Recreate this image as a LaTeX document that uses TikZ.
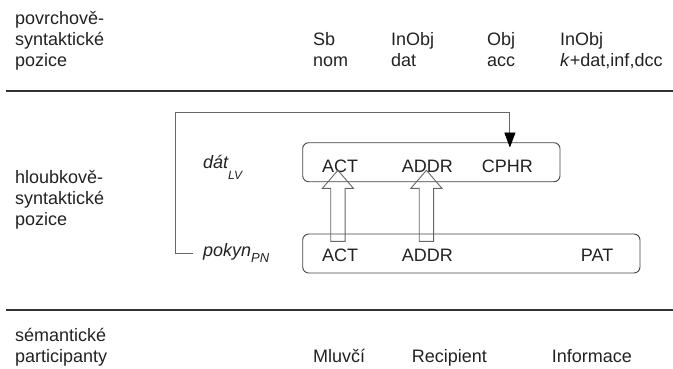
\documentclass[tikz,border=0pt]{standalone}
\usepackage{fontspec}
\setmainfont{Liberation Sans}
\usetikzlibrary{arrows.meta,calc}
\definecolor{ink}{HTML}{222222}
\definecolor{rulegray}{HTML}{333333}
\definecolor{boxgray}{HTML}{444444}
\definecolor{conngray}{HTML}{666666}
\begin{document}
\begin{tikzpicture}[x=1pt,y=-1pt,
  font=\fontsize{18}{21}\selectfont,
  lbl/.style={anchor=base west, inner sep=0pt, text=ink},
  rolebox/.style={draw=boxgray, line width=0.9pt, rounded corners=6pt, inner sep=0pt},
  sep/.style={draw=rulegray, line width=2pt},
  hollow/.style={draw=conngray, line width=0.9pt, line join=miter},
  conn/.style={draw=conngray, line width=0.9pt, -{Triangle[length=15pt,width=11pt,color=black]}}]
\useasboundingbox (0,0) rectangle (673,368);

% surface-syntactic row
\node[lbl] (ps1) at (15,24) {povrchově-};
\node[lbl] (ps2) at (15,45) {syntaktické};
\node[lbl] (ps3) at (15,66) {pozice};
\node[lbl] (sb)  at (313,45) {Sb};
\node[lbl] (nom) at (313,66) {nom};
\node[lbl] (io1) at (391,45) {InObj};
\node[lbl] (dat) at (391,66) {dat};
\node[lbl] (obj) at (487,45) {Obj};
\node[lbl] (acc) at (487,66) {acc};
\node[lbl] (io2) at (560,45) {InObj};
\node[lbl] (kdat) at (560,66) {\textit{k}+dat,inf,dcc};

% separating rules
\coordinate (r1a) at (6,91);  \coordinate (r1b) at (673,91);
\coordinate (r2a) at (6,310); \coordinate (r2b) at (673,310);
\draw[sep] (r1a) -- (r1b);
\draw[sep] (r2a) -- (r2b);

% deep-syntactic row
\node[lbl] (hs1) at (15,183) {hloubkově-};
\node[lbl] (hs2) at (15,204) {syntaktické};
\node[lbl] (hs3) at (15,225) {pozice};
\node[lbl] (dat_lv) at (203,168.3) {\textit{dát\raisebox{-11pt}{\fontsize{12}{12}\selectfont LV}}};
\node[lbl] (pok) at (203,256.7) {\textit{pokyn\raisebox{-6pt}{\fontsize{13}{13}\selectfont PN}}};

% valency frames
\node[rolebox, minimum width=257.3pt, minimum height=39pt] (lvbox) at (431.35,162.2) {};
\node[rolebox, minimum width=337.3pt, minimum height=39pt] (pnbox) at (471.35,253.5) {};

\node[lbl] (tact)  at (322,172.3)   {ACT};
\node[lbl] (taddr) at (401.7,172.3) {ADDR};
\node[lbl] (cphr)  at (481.7,172.3) {CPHR};
\node[lbl] (bact)  at (322,261)     {ACT};
\node[lbl] (baddr) at (401.7,261)   {ADDR};
\node[lbl] (pat)   at (580.7,261)   {PAT};

% hollow arrows from the noun's frame to the verb's frame
\draw[hollow] ($(tact.base)+(-2.3,-2)$) -- ++(15.5,18) -- ++(-8.3,0) -- ++(0,53)
  -- ++(-14.4,0) -- ++(0,-53) -- ++(-8.3,0) -- cycle;
\draw[hollow] ($(taddr.base)+(-1,-2)$) -- ++(15.5,18) -- ++(-8.3,0) -- ++(0,53)
  -- ++(-14.4,0) -- ++(0,-53) -- ++(-8.3,0) -- cycle;

% elbow connector from the noun to CPHR
\coordinate (bendL) at (175,112.7);
\draw[conn] ([xshift=-10pt]pok.west) -| (bendL) -| ([xshift=2.5pt,yshift=12pt]cphr.north);

% semantic row
\node[lbl] (sm1) at (15,341) {sémantické};
\node[lbl] (sm2) at (15,362) {participanty};
\node[lbl] (mluv) at (313,362) {Mluvčí};
\node[lbl] (reci) at (411.7,362) {Recipient};
\node[lbl] (info) at (551.7,362) {Informace};
\end{tikzpicture}
\end{document}
